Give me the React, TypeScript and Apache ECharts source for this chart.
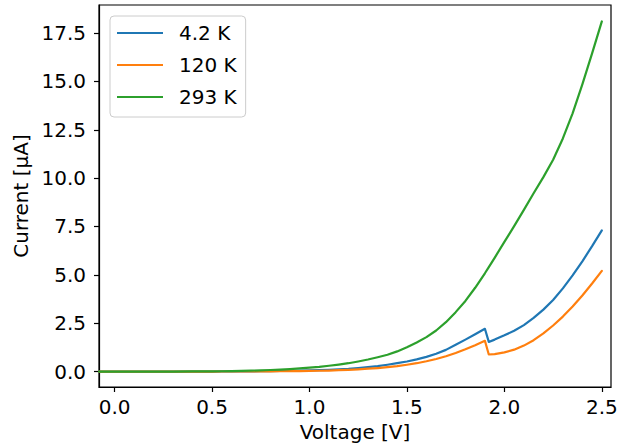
import React, { useEffect, useRef } from "react";
import * as echarts from "echarts";

// Voltage sweep points before and after the step near 1.9 V
const voltageLow = [
  -0.08, 0.0, 0.1, 0.2, 0.3, 0.4,
  0.5, 0.55, 0.6, 0.65, 0.7, 0.75, 0.8, 0.85, 0.9, 0.95,
  1.0, 1.05, 1.1, 1.15, 1.2, 1.25, 1.3, 1.35, 1.4, 1.45,
  1.5, 1.55, 1.6, 1.65, 1.7, 1.75, 1.8, 1.85, 1.9,
];
const voltageHigh = [1.92, 1.95, 2.0, 2.05, 2.1, 2.15, 2.2, 2.25, 2.3, 2.35, 2.4, 2.45, 2.5];

// Current in µA at 4.2 K
const current42Low = [
  0, 0, 0, 0, 0, 0,
  0, 0.003, 0.005, 0.008, 0.01, 0.015, 0.02, 0.03, 0.04, 0.05,
  0.06, 0.075, 0.09, 0.115, 0.14, 0.18, 0.23, 0.28, 0.35, 0.43,
  0.52, 0.63, 0.76, 0.92, 1.12, 1.38, 1.65, 1.93, 2.21,
];
const current42High = [1.53, 1.65, 1.87, 2.11, 2.4, 2.77, 3.2, 3.7, 4.3, 4.97, 5.7, 6.48, 7.3];

// Current in µA at 120 K
const current120Low = [
  0, 0, 0, 0, 0, 0,
  0, 0.001, 0.002, 0.003, 0.005, 0.008, 0.01, 0.015, 0.02, 0.025,
  0.03, 0.04, 0.05, 0.07, 0.09, 0.115, 0.145, 0.18, 0.225, 0.28,
  0.35, 0.43, 0.53, 0.65, 0.79, 0.96, 1.15, 1.36, 1.59,
];
const current120High = [0.88, 0.9, 0.99, 1.13, 1.34, 1.62, 1.97, 2.38, 2.84, 3.36, 3.93, 4.55, 5.2];

// Current in µA at 293 K
const current293Low = [
  0, 0, 0, 0, 0, 0.005,
  0.01, 0.015, 0.02, 0.03, 0.045, 0.06, 0.08, 0.1, 0.125, 0.16,
  0.2, 0.24, 0.3, 0.36, 0.43, 0.52, 0.62, 0.74, 0.87, 1.04,
  1.25, 1.5, 1.78, 2.12, 2.55, 3.07, 3.65, 4.33, 5.08,
];
const current293High = [5.4, 5.88, 6.7, 7.52, 8.36, 9.22, 10.05, 10.95, 12.05, 13.35, 14.85, 16.45, 18.1];

const seriesNames = ["4.2 K", "120 K", "293 K"];
const seriesColors = ["#1f77b4", "#ff7f0e", "#2ca02c"];

const xTicks = [0, 0.5, 1.0, 1.5, 2.0, 2.5];
const yTicks = [0, 2.5, 5.0, 7.5, 10.0, 12.5, 15.0, 17.5];

const FONT = "DejaVu Sans";

function pairs(xs: number[], ys: number[]): number[][] {
  return xs.map((x, i) => [x, ys[i]]);
}

export default function App() {
  const ref = useRef<HTMLDivElement>(null);

  useEffect(() => {
    if (!ref.current) return;
    const chart = echarts.init(ref.current, null, { renderer: "svg" });

    const allVoltage = [...voltageLow, ...voltageHigh];
    const seriesData = [
      pairs(allVoltage, [...current42Low, ...current42High]),
      pairs(allVoltage, [...current120Low, ...current120High]),
      pairs(allVoltage, [...current293Low, ...current293High]),
    ];

    const axisCommon = {
      axisLine: { show: true, onZero: false, lineStyle: { color: "#000", width: 1.2 } },
      axisTick: { show: true, length: 5, inside: false, lineStyle: { color: "#000", width: 1.2 } },
      splitLine: { show: false },
      nameTextStyle: { fontFamily: FONT, fontSize: 20, color: "#000" },
    };

    chart.setOption({
      animation: false,
      backgroundColor: "#fff",
      grid: {
        left: 99,
        right: 10,
        top: 5,
        bottom: 61,
        show: true,
        borderColor: "#000",
        borderWidth: 1.2,
        containLabel: false,
      },
      xAxis: {
        type: "value",
        min: -0.08,
        max: 2.547,
        name: "Voltage [V]",
        nameLocation: "middle",
        nameGap: 34,
        ...axisCommon,
        axisTick: { ...axisCommon.axisTick, customValues: xTicks },
        axisLabel: {
          customValues: xTicks,
          formatter: (v: number) => v.toFixed(1),
          fontFamily: FONT,
          fontSize: 20,
          color: "#000",
          margin: 10,
        },
      },
      yAxis: {
        type: "value",
        min: -0.8,
        max: 18.95,
        name: "Current [\u03bcA]",
        nameLocation: "middle",
        nameGap: 66,
        ...axisCommon,
        axisTick: { ...axisCommon.axisTick, customValues: yTicks },
        axisLabel: {
          customValues: yTicks,
          formatter: (v: number) => v.toFixed(1),
          fontFamily: FONT,
          fontSize: 20,
          color: "#000",
          margin: 13,
        },
      },
      legend: {
        show: true,
        orient: "vertical",
        left: 110,
        top: 16,
        padding: [5, 9, 8, 7],
        icon: "rect",
        itemWidth: 46,
        itemHeight: 2.2,
        itemGap: 8,
        backgroundColor: "rgba(255,255,255,0.8)",
        borderColor: "#cccccc",
        borderWidth: 1,
        borderRadius: 4,
        data: seriesNames,
        textStyle: {
          fontFamily: FONT,
          fontSize: 20,
          color: "#000",
          lineHeight: 24,
          padding: [0, 0, 0, 11],
        },
      },
      series: seriesNames.map((name, i) => ({
        name,
        type: "line",
        data: seriesData[i],
        symbol: "none",
        showSymbol: false,
        smooth: false,
        lineStyle: { color: seriesColors[i], width: 2.2, join: "round", cap: "round" },
        itemStyle: { color: seriesColors[i] },
        z: 2 + i,
      })),
    });

    return () => chart.dispose();
  }, []);

  return (
    <div
      ref={ref}
      style={{ position: "fixed", left: 0, top: 0, width: 621, height: 448 }}
    />
  );
}
